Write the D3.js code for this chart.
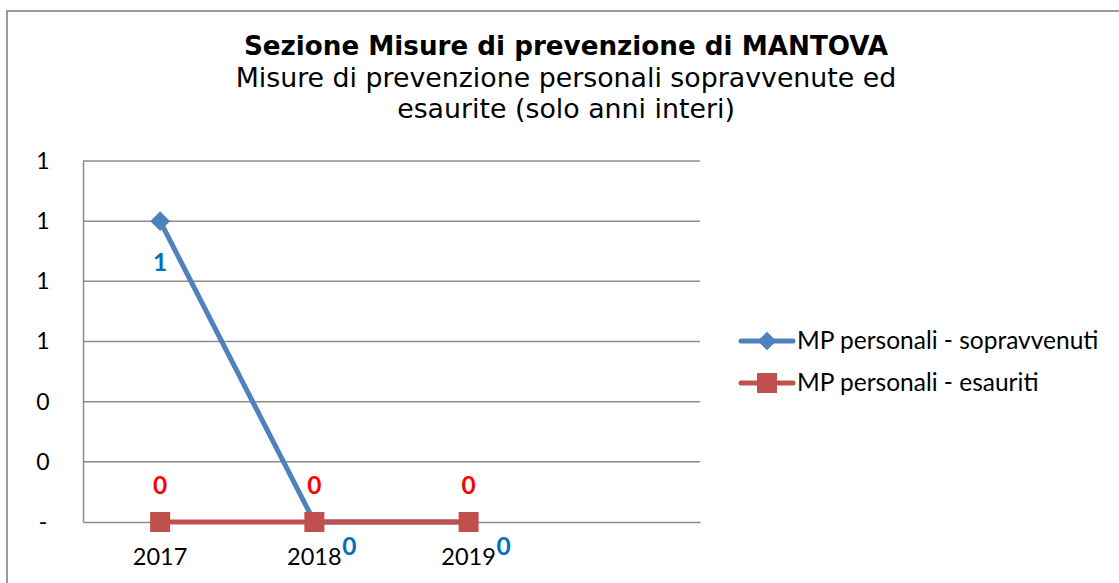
<!DOCTYPE html>
<html>
<head>
<meta charset="utf-8">
<script src="https://cdn.jsdelivr.net/npm/d3@7"></script>
<style>
  html, body { margin: 0; padding: 0; background: #fff; }
  svg { display: block; }
</style>
</head>
<body>
<svg id="chart" width="1119" height="583"></svg>
<script>
const categories = ["2017", "2018", "2019", ""];
const sopravvenuti = [1, 0, 0];
const esauriti = [0, 0, 0];
const yTickValues = [0, 0.2, 0.4, 0.6, 0.8, 1.0, 1.2];
const yTickLabels = ["-", "0", "0", "1", "1", "1", "1"];
const seriesNames = ["MP personali - sopravvenuti", "MP personali - esauriti"];
const titleText = "Sezione Misure di prevenzione di MANTOVA";
const subtitleLines = ["Misure di prevenzione personali sopravvenute ed", "esaurite (solo anni interi)"];

const svg = d3.select("#chart");
const W = 1119, H = 583;
const plot = { left: 83, right: 700, top: 161, bottom: 522 };
const blue = "#4F81BD", red = "#C0504D";
const labelBlue = "#0070C0", labelRed = "#FF0000";
const gridColor = "#8c8c8c";
const calibri = "Lato, 'Open Sans', sans-serif";
const verdana = "'DejaVu Sans', Verdana, sans-serif";

// outer frame
svg.append("rect").attr("x", 7).attr("y", 11).attr("width", W + 20).attr("height", H + 20)
  .attr("fill", "none").attr("stroke", "#999").attr("stroke-width", 2);

// title
const tcx = 566;
svg.append("text").attr("x", tcx).attr("y", 55).attr("text-anchor", "middle")
  .attr("font-family", verdana).attr("font-weight", "bold").attr("font-size", 26.2)
  .attr("fill", "#000").text(titleText);
subtitleLines.forEach((t, i) => {
  svg.append("text").attr("x", tcx).attr("y", 87 + i * 31).attr("text-anchor", "middle")
    .attr("font-family", verdana).attr("font-size", 26.8).attr("fill", "#000").text(t);
});

const x = d3.scaleBand().domain(categories).range([plot.left, plot.right]);
const y = d3.scaleLinear().domain([0, 1.2]).range([plot.bottom, plot.top]);
const cx = c => x(c) + x.bandwidth() / 2;

// gridlines
svg.append("g").selectAll("line").data(yTickValues.filter(v => v > 0)).join("line")
  .attr("x1", plot.left).attr("x2", plot.right)
  .attr("y1", d => y(d)).attr("y2", d => y(d))
  .attr("stroke", gridColor).attr("stroke-width", 1.5);

// y axis
const yAxis = d3.axisLeft(y).tickValues(yTickValues).tickSize(0).tickPadding(0)
  .tickFormat((d, i) => yTickLabels[i]);
const gy = svg.append("g").attr("transform", `translate(${plot.left},0)`).call(yAxis);
gy.select(".domain").attr("stroke", gridColor).attr("stroke-width", 1.5);
gy.selectAll("text").attr("x", -40).attr("text-anchor", "middle").attr("font-family", calibri)
  .attr("font-size", 23).attr("fill", "#000");

// x axis
const xAxis = d3.axisBottom(x).tickSize(0).tickPadding(0);
const gx = svg.append("g").attr("transform", `translate(0,${plot.bottom})`).call(xAxis);
gx.select(".domain").attr("stroke", gridColor).attr("stroke-width", 1.5);
gx.selectAll("text").attr("dy", 0).attr("y", 43).attr("font-family", calibri)
  .attr("font-size", 23.5).attr("fill", "#000");

const line = d3.line().x((d, i) => cx(categories[i])).y(d => y(d));

// blue series
svg.append("path").datum(sopravvenuti).attr("d", line).attr("fill", "none")
  .attr("stroke", blue).attr("stroke-width", 5).attr("stroke-linejoin", "round");
svg.append("g").selectAll("path").data(sopravvenuti).join("path")
  .attr("transform", (d, i) => `translate(${cx(categories[i])},${y(d)})`)
  .attr("d", d3.symbol().type(d3.symbolDiamond2).size(250)).attr("fill", blue);

// red series
svg.append("path").datum(esauriti).attr("d", line).attr("fill", "none")
  .attr("stroke", red).attr("stroke-width", 5);
svg.append("g").selectAll("rect").data(esauriti).join("rect")
  .attr("x", (d, i) => cx(categories[i]) - 10).attr("y", d => y(d) - 10)
  .attr("width", 20).attr("height", 20).attr("fill", red);

// data labels
svg.append("g").selectAll("text").data(esauriti).join("text")
  .attr("x", (d, i) => cx(categories[i])).attr("y", d => y(d) - 28)
  .attr("text-anchor", "middle").attr("font-family", calibri).attr("font-weight", "bold")
  .attr("font-size", 24.5).attr("fill", labelRed).text(d => d3.format("d")(d));
svg.append("g").selectAll("text").data(sopravvenuti).join("text")
  .attr("x", (d, i) => cx(categories[i]) + (i === 0 ? 0 : 35))
  .attr("y", (d, i) => y(d) + (i === 0 ? 50 : 33))
  .attr("text-anchor", "middle").attr("font-family", calibri).attr("font-weight", "bold")
  .attr("font-size", 24.5).attr("fill", labelBlue).text(d => d3.format("d")(d));

// legend
const legend = svg.append("g");
seriesNames.forEach((name, i) => {
  const ly = 341 + i * 42;
  const g = legend.append("g");
  g.append("line").attr("x1", 741).attr("x2", 793).attr("y1", ly).attr("y2", ly)
    .attr("stroke", i === 0 ? blue : red).attr("stroke-width", 5).attr("stroke-linecap", "round");
  if (i === 0) {
    g.append("path").attr("transform", `translate(767,${ly})`)
      .attr("d", d3.symbol().type(d3.symbolDiamond2).size(220)).attr("fill", blue);
  } else {
    g.append("rect").attr("x", 757).attr("y", ly - 10).attr("width", 20).attr("height", 20).attr("fill", red);
  }
  g.append("text").attr("x", 797).attr("y", ly + 8).attr("font-family", calibri)
    .attr("font-size", 24.5).attr("fill", "#000").text(name);
});
</script>
</body>
</html>
